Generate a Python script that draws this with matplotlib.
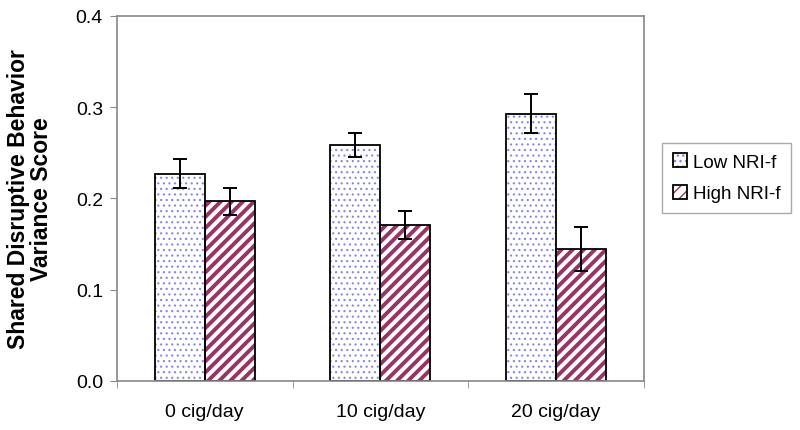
import matplotlib
matplotlib.use('Agg')
from matplotlib import pyplot as plt
from matplotlib.patches import Patch
import numpy as np

plt.rcParams['font.family'] = ['Liberation Sans', 'DejaVu Sans']

# Data
categories = ['0 cig/day', '10 cig/day', '20 cig/day']
low_nri = [0.227, 0.259, 0.293]
low_err = [0.016, 0.013, 0.021]
high_nri = [0.197, 0.171, 0.145]
high_err = [0.015, 0.015, 0.024]

x = np.arange(len(categories))
w = 0.285
dot_col = '#8484ec'
stripe_col = '#993366'

fig = plt.figure(figsize=(8, 4.31), dpi=100)
ax = fig.add_axes([0.146, 0.1137, 0.659, 0.8469])

# hatch layers (hatch colour follows edgecolor), then black outlines on top
with plt.rc_context({'hatch.linewidth': 0.8}):
    ax.bar(x - w/2, low_nri, w, color='white', edgecolor=dot_col, hatch='...', linewidth=0)
    h1a = Patch(facecolor='white', edgecolor=dot_col, hatch='...', linewidth=0)
with plt.rc_context({'hatch.linewidth': 2.8}):
    ax.bar(x + w/2, high_nri, w, color='white', edgecolor=stripe_col, hatch='///', linewidth=0)
    h2a = Patch(facecolor='white', edgecolor=stripe_col, hatch='///', linewidth=0)
ax.bar(x - w/2, low_nri, w, fill=False, edgecolor='black', linewidth=1.3)
ax.bar(x + w/2, high_nri, w, fill=False, edgecolor='black', linewidth=1.3)

ax.errorbar(x - w/2, low_nri, yerr=low_err, fmt='none', ecolor='black', elinewidth=1.4, capsize=5, capthick=1.4)
ax.errorbar(x + w/2, high_nri, yerr=high_err, fmt='none', ecolor='black', elinewidth=1.4, capsize=5, capthick=1.4)

# legend: hatch layer + black outline overlaid
h1b = Patch(fill=False, edgecolor='black', linewidth=1.3)
h2b = Patch(fill=False, edgecolor='black', linewidth=1.3)
fig.legend([(h1a, h1b), (h2a, h2b)], ['Low NRI-f', 'High NRI-f'], loc='center left',
           bbox_to_anchor=(0.828, 0.585), fontsize=13.5, fancybox=False,
           edgecolor='#aaaaaa', framealpha=1, handlelength=0.75, handleheight=0.75,
           handletextpad=0.35, labelspacing=0.75, borderpad=0.55, borderaxespad=0)

ax.set_xlim(-0.5, 2.5)
ax.set_ylim(0, 0.4)
ax.set_yticks([0, 0.1, 0.2, 0.3, 0.4])
ax.set_yticklabels(['0.0', '0.1', '0.2', '0.3', '0.4'], fontsize=14)
ax.set_xticks(x)
ax.set_xticklabels(categories, fontsize=14)
ax.set_xticks([-0.5, 0.5, 1.5, 2.5], minor=True)
ax.tick_params(axis='x', which='major', length=0, pad=16)
ax.tick_params(axis='x', which='minor', length=5, color='#888888')
ax.tick_params(axis='y', length=5, color='#888888', pad=5)

for s in ax.spines.values():
    s.set_color('#888888')
    s.set_linewidth(1.2)

ax.set_ylabel('Shared Disruptive Behavior\nVariance Score', fontsize=16.5, fontweight='bold',
              labelpad=16, linespacing=1.05)

fig.savefig('out.png', dpi=100)
